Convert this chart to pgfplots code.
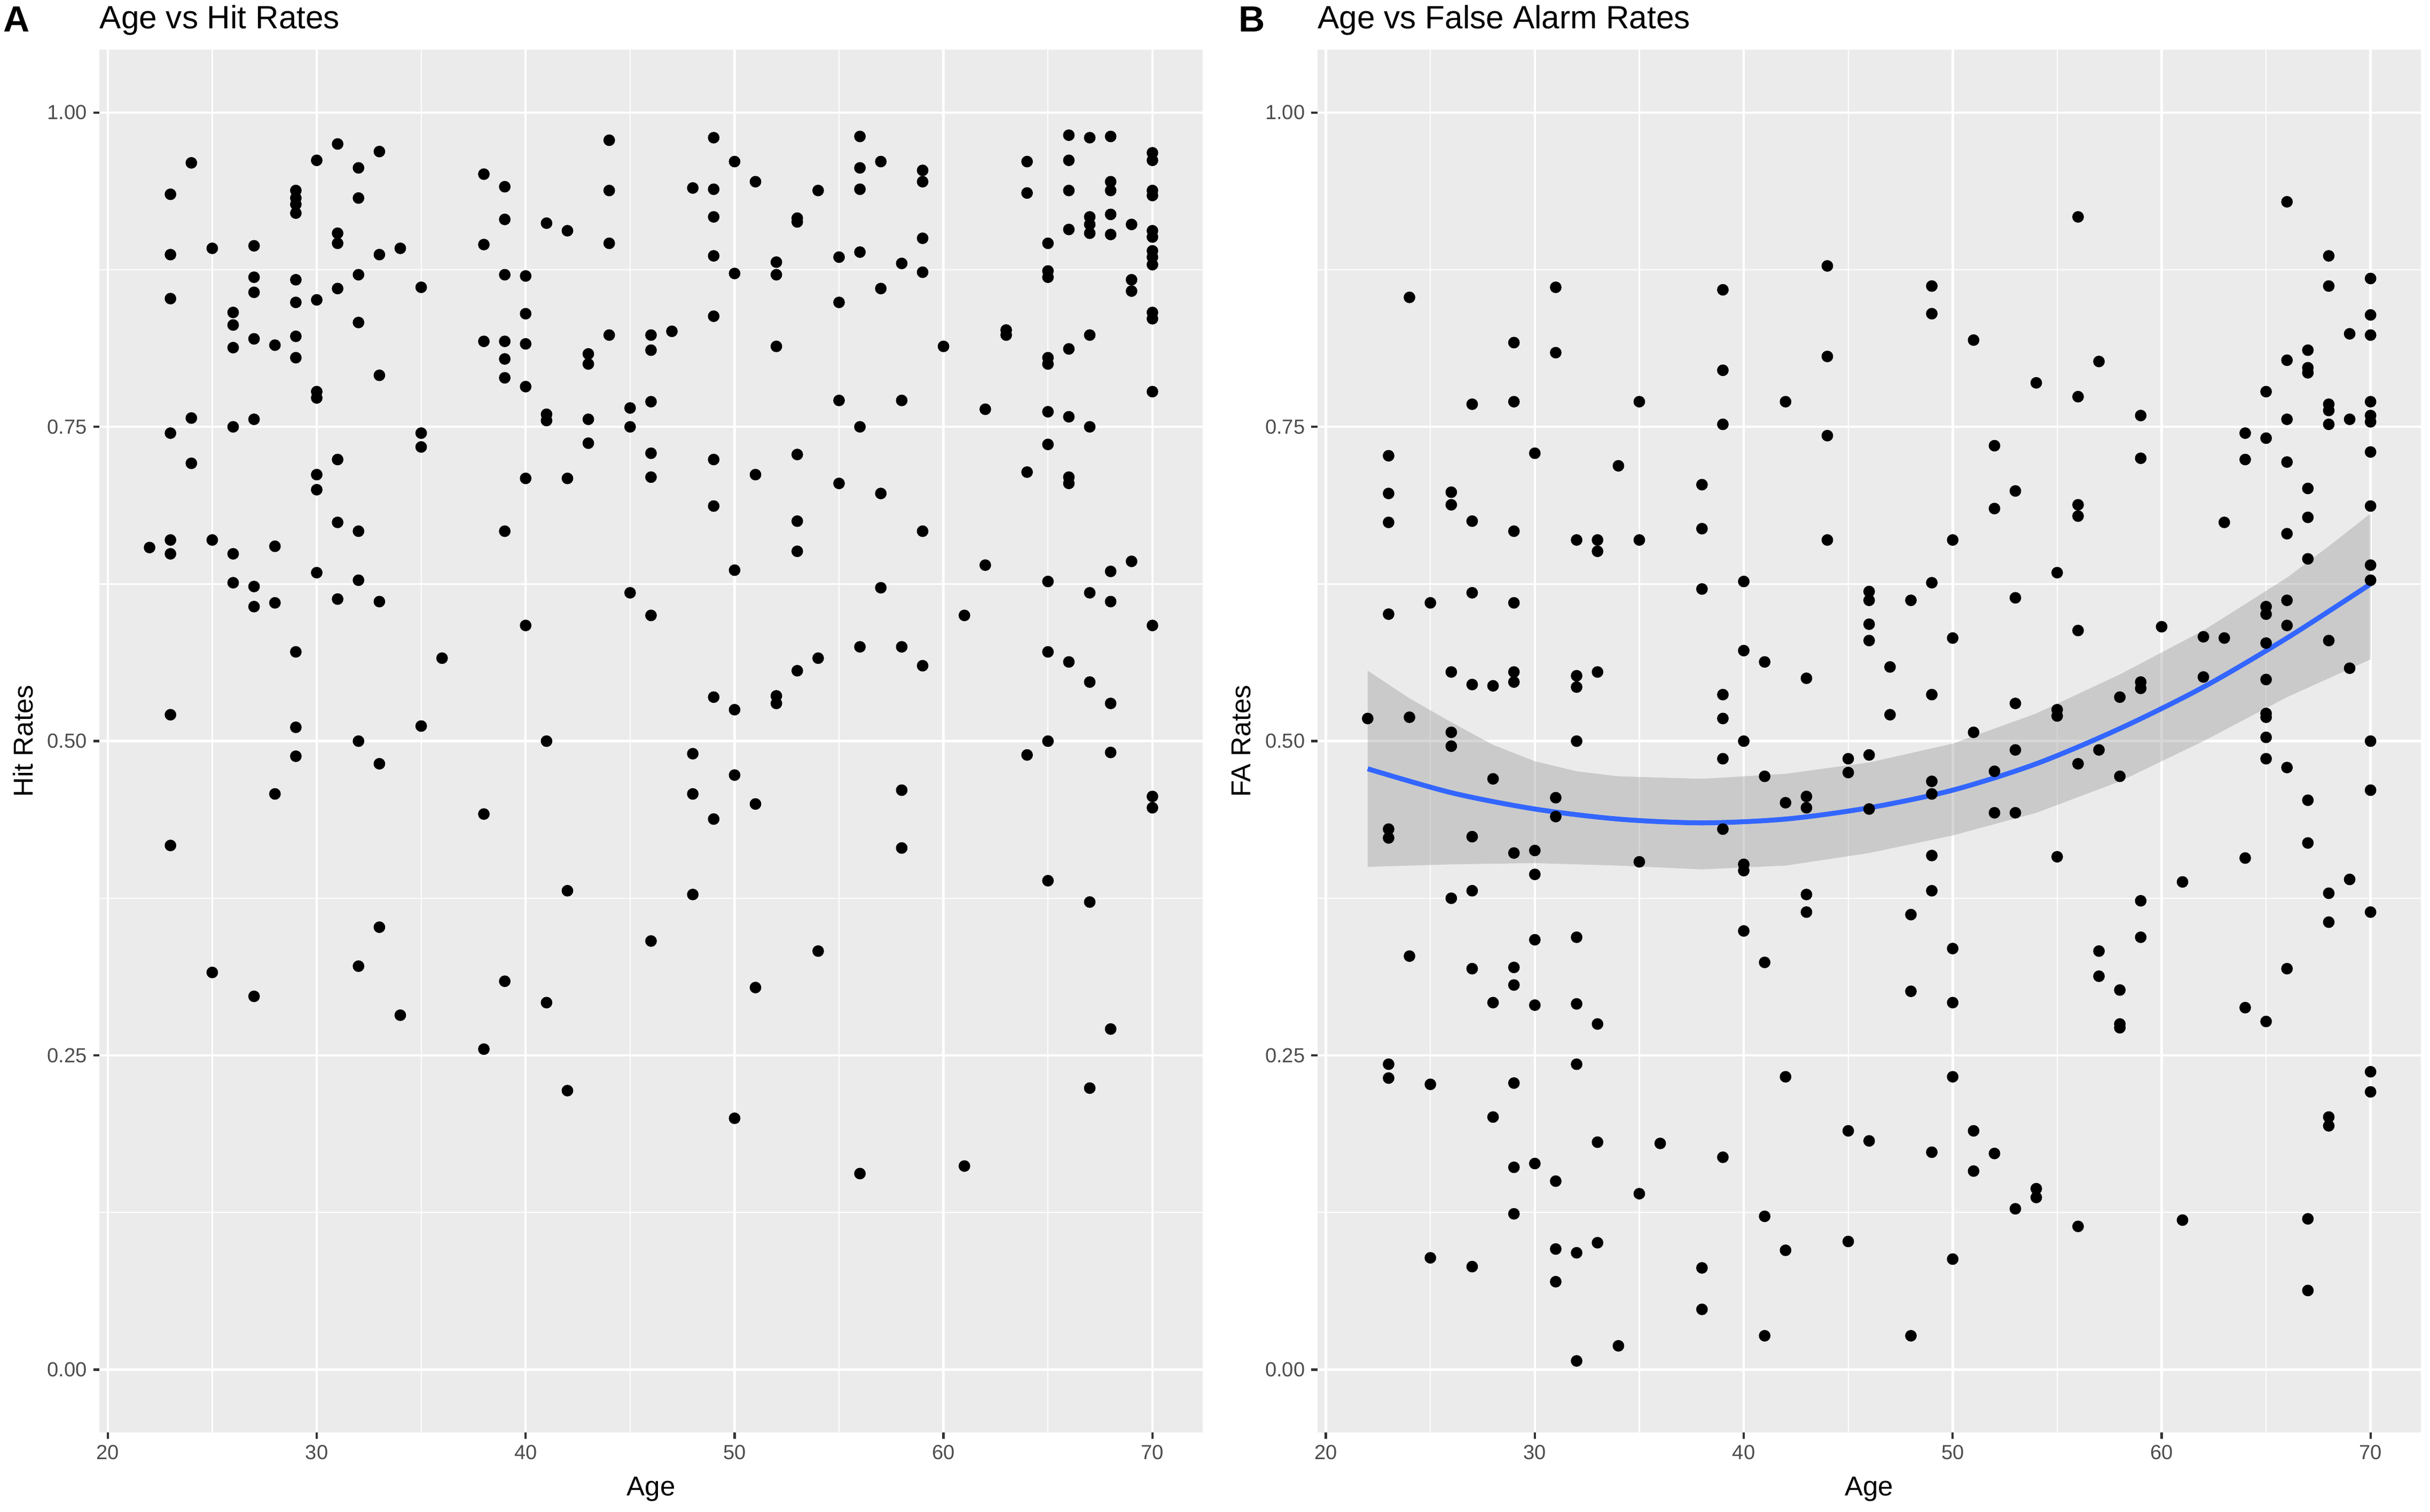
\documentclass[border=0pt]{standalone}
\usepackage{fontspec}
\setmainfont{Liberation Sans}
\usepackage{pgfplots}
\pgfplotsset{compat=1.18}
\definecolor{bggray}{HTML}{EBEBEB}
\definecolor{ticklab}{HTML}{4D4D4D}
\definecolor{tickcol}{HTML}{333333}
\definecolor{smoothblue}{HTML}{3366FF}
\definecolor{ribbongray}{HTML}{999999}

\pgfplotsset{ggp/.style={
  scale only axis, width=213mm, height=267mm,
  xmin=19.6, xmax=72.4, ymin=-0.05, ymax=1.05,
  axis background/.style={fill=bggray},
  axis line style={draw=none},
  xtick={20,30,40,50,60,70},
  ytick={0,0.25,0.5,0.75,1},
  minor xtick={25,35,45,55,65},
  minor ytick={0.125,0.375,0.625,0.875},
  grid=both,
  major grid style={white, line width=0.46mm},
  minor grid style={white, line width=0.23mm},
  tick align=outside,
  major tick length=1.2mm,
  minor tick length=0pt,
  xtick pos=left, ytick pos=left,
  tick style={tickcol, line width=0.45mm},
  tick label style={font=\fontsize{11.2}{13}\selectfont, text=ticklab},
  /pgf/number format/assume math mode=true,
  yticklabel style={/pgf/number format/.cd, fixed, fixed zerofill, precision=2},
  every axis x label/.style={at={(axis description cs:0.5,-0.041)}, anchor=center, font=\fontsize{15}{18}\selectfont},
  every axis y label/.style={at={(axis description cs:-0.069,0.5)}, rotate=90, anchor=center, font=\fontsize{15}{18}\selectfont},
  every axis title/.style={at={(axis description cs:0,1)}, anchor=base west, inner sep=0pt, yshift=4.08mm, font=\fontsize{17.7}{20}\selectfont},
  dots/.style={only marks, mark=*, mark size=1.05mm, mark options={draw=none, fill=black}},
}}

\begin{document}
\begin{tikzpicture}
\useasboundingbox (0,0) rectangle (469.2mm,291.9mm);

\begin{axis}[ggp, at={(19.2mm,15.3mm)}, anchor=south west,
  title={Age vs Hit Rates}, xlabel={Age}, ylabel={Hit Rates}]
\addplot[dots] coordinates {
(22,0.654)
(23,0.935) (23,0.887) (23,0.852) (23,0.745) (23,0.660) (23,0.649) (23,0.521) (23,0.417)
(24,0.960) (24,0.757) (24,0.721)
(25,0.892) (25,0.660) (25,0.316)
(26,0.841) (26,0.831) (26,0.813) (26,0.750) (26,0.649) (26,0.626)
(27,0.894) (27,0.869) (27,0.857) (27,0.820) (27,0.756) (27,0.623) (27,0.607) (27,0.297)
(28,0.815) (28,0.655) (28,0.610) (28,0.458)
(29,0.938) (29,0.932) (29,0.927) (29,0.920) (29,0.867) (29,0.849) (29,0.822) (29,0.805) (29,0.571) (29,0.511) (29,0.488)
(30,0.962) (30,0.851) (30,0.778) (30,0.773) (30,0.712) (30,0.700) (30,0.634)
(31,0.975) (31,0.904) (31,0.896) (31,0.860) (31,0.724) (31,0.674) (31,0.613)
(32,0.956) (32,0.932) (32,0.871) (32,0.833) (32,0.667) (32,0.628) (32,0.500) (32,0.321)
(33,0.969) (33,0.887) (33,0.791) (33,0.611) (33,0.482) (33,0.352)
(34,0.892) (34,0.282)
(35,0.861) (35,0.745) (35,0.734) (35,0.512)
(36,0.566)
(38,0.951) (38,0.895) (38,0.818) (38,0.442) (38,0.255)
(39,0.941) (39,0.915) (39,0.871) (39,0.818) (39,0.804) (39,0.789) (39,0.667) (39,0.309)
(40,0.870) (40,0.840) (40,0.816) (40,0.782) (40,0.709) (40,0.592)
(41,0.912) (41,0.760) (41,0.755) (41,0.500) (41,0.292)
(42,0.906) (42,0.709) (42,0.381) (42,0.222)
(43,0.808) (43,0.800) (43,0.756) (43,0.737)
(44,0.978) (44,0.938) (44,0.896) (44,0.823)
(45,0.765) (45,0.750) (45,0.618)
(46,0.823) (46,0.811) (46,0.770) (46,0.729) (46,0.710) (46,0.600) (46,0.341)
(47,0.826)
(48,0.940) (48,0.490) (48,0.458) (48,0.378)
(49,0.980) (49,0.939) (49,0.917) (49,0.886) (49,0.838) (49,0.724) (49,0.687) (49,0.535) (49,0.438)
(50,0.961) (50,0.872) (50,0.636) (50,0.525) (50,0.473) (50,0.200)
(51,0.945) (51,0.712) (51,0.450) (51,0.304)
(52,0.881) (52,0.871) (52,0.814) (52,0.536) (52,0.530)
(53,0.916) (53,0.913) (53,0.728) (53,0.675) (53,0.651) (53,0.556)
(54,0.938) (54,0.566) (54,0.333)
(55,0.885) (55,0.849) (55,0.771) (55,0.705)
(56,0.981) (56,0.956) (56,0.939) (56,0.889) (56,0.750) (56,0.575) (56,0.156)
(57,0.961) (57,0.860) (57,0.697) (57,0.622)
(58,0.880) (58,0.771) (58,0.575) (58,0.461) (58,0.415)
(59,0.954) (59,0.945) (59,0.900) (59,0.873) (59,0.667) (59,0.560)
(60,0.814)
(61,0.600) (61,0.162)
(62,0.764) (62,0.640)
(63,0.827) (63,0.823)
(64,0.961) (64,0.936) (64,0.714) (64,0.489)
(65,0.896) (65,0.874) (65,0.869) (65,0.805) (65,0.800) (65,0.762) (65,0.736) (65,0.627) (65,0.571) (65,0.500) (65,0.389)
(66,0.982) (66,0.962) (66,0.938) (66,0.907) (66,0.812) (66,0.758) (66,0.710) (66,0.705) (66,0.563)
(67,0.980) (67,0.917) (67,0.911) (67,0.904) (67,0.823) (67,0.750) (67,0.618) (67,0.547) (67,0.372) (67,0.224)
(68,0.981) (68,0.945) (68,0.938) (68,0.919) (68,0.903) (68,0.635) (68,0.611) (68,0.530) (68,0.491) (68,0.271)
(69,0.911) (69,0.867) (69,0.858) (69,0.643)
(70,0.968) (70,0.962) (70,0.938) (70,0.934) (70,0.906) (70,0.901) (70,0.890) (70,0.885) (70,0.879) (70,0.841) (70,0.836) (70,0.778) (70,0.592) (70,0.456) (70,0.447)
};
\end{axis}

\begin{axis}[ggp, at={(254.4mm,15.3mm)}, anchor=south west,
  title={Age vs False Alarm Rates}, xlabel={Age}, ylabel={FA Rates}]
\addplot[dots] coordinates {
(22,0.518)
(23,0.727) (23,0.697) (23,0.674) (23,0.601) (23,0.430) (23,0.423) (23,0.243) (23,0.232)
(24,0.853) (24,0.519) (24,0.329)
(25,0.610) (25,0.227) (25,0.089)
(26,0.698) (26,0.688) (26,0.555) (26,0.507) (26,0.496) (26,0.375)
(27,0.768) (27,0.675) (27,0.618) (27,0.545) (27,0.424) (27,0.381) (27,0.319) (27,0.082)
(28,0.544) (28,0.470) (28,0.292) (28,0.201)
(29,0.817) (29,0.770) (29,0.667) (29,0.610) (29,0.555) (29,0.547) (29,0.411) (29,0.320) (29,0.306) (29,0.228) (29,0.161) (29,0.124)
(30,0.729) (30,0.413) (30,0.394) (30,0.342) (30,0.290) (30,0.164)
(31,0.861) (31,0.809) (31,0.455) (31,0.440) (31,0.150) (31,0.096) (31,0.070)
(32,0.660) (32,0.552) (32,0.543) (32,0.500) (32,0.344) (32,0.291) (32,0.243) (32,0.093) (32,0.007)
(33,0.660) (33,0.651) (33,0.555) (33,0.275) (33,0.181) (33,0.101)
(34,0.719) (34,0.019)
(35,0.770) (35,0.660) (35,0.404) (35,0.140)
(36,0.180)
(38,0.704) (38,0.669) (38,0.621) (38,0.081) (38,0.048)
(39,0.859) (39,0.795) (39,0.752) (39,0.537) (39,0.518) (39,0.486) (39,0.430) (39,0.169)
(40,0.627) (40,0.572) (40,0.500) (40,0.402) (40,0.397) (40,0.349)
(41,0.563) (41,0.472) (41,0.324) (41,0.122) (41,0.027)
(42,0.770) (42,0.451) (42,0.233) (42,0.095)
(43,0.550) (43,0.456) (43,0.447) (43,0.378) (43,0.364)
(44,0.878) (44,0.806) (44,0.743) (44,0.660)
(45,0.486) (45,0.475) (45,0.190) (45,0.102)
(46,0.619) (46,0.612) (46,0.593) (46,0.580) (46,0.489) (46,0.446) (46,0.182)
(47,0.559) (47,0.521)
(48,0.612) (48,0.362) (48,0.301) (48,0.027)
(49,0.862) (49,0.840) (49,0.626) (49,0.537) (49,0.468) (49,0.458) (49,0.409) (49,0.381) (49,0.173)
(50,0.660) (50,0.582) (50,0.335) (50,0.292) (50,0.233) (50,0.088)
(51,0.819) (51,0.507) (51,0.190) (51,0.158)
(52,0.735) (52,0.685) (52,0.476) (52,0.443) (52,0.172)
(53,0.699) (53,0.614) (53,0.530) (53,0.493) (53,0.443) (53,0.128)
(54,0.785) (54,0.144) (54,0.137)
(55,0.634) (55,0.525) (55,0.520) (55,0.408)
(56,0.917) (56,0.774) (56,0.688) (56,0.679) (56,0.588) (56,0.482) (56,0.114)
(57,0.802) (57,0.493) (57,0.333) (57,0.313)
(58,0.535) (58,0.472) (58,0.302) (58,0.275) (58,0.272)
(59,0.759) (59,0.725) (59,0.547) (59,0.542) (59,0.373) (59,0.344)
(60,0.591)
(61,0.388) (61,0.119)
(62,0.583) (62,0.551)
(63,0.674) (63,0.582)
(64,0.745) (64,0.724) (64,0.407) (64,0.288)
(65,0.778) (65,0.741) (65,0.607) (65,0.601) (65,0.578) (65,0.549) (65,0.522) (65,0.519) (65,0.503) (65,0.486) (65,0.277)
(66,0.929) (66,0.803) (66,0.756) (66,0.722) (66,0.665) (66,0.612) (66,0.592) (66,0.479) (66,0.319)
(67,0.811) (67,0.797) (67,0.793) (67,0.701) (67,0.678) (67,0.645) (67,0.453) (67,0.419) (67,0.120) (67,0.063)
(68,0.886) (68,0.862) (68,0.768) (68,0.763) (68,0.752) (68,0.580) (68,0.379) (68,0.356) (68,0.201) (68,0.194)
(69,0.824) (69,0.756) (69,0.558) (69,0.390)
(70,0.868) (70,0.839) (70,0.823) (70,0.770) (70,0.759) (70,0.754) (70,0.730) (70,0.687) (70,0.640) (70,0.628) (70,0.500) (70,0.461) (70,0.364) (70,0.237) (70,0.221)
};
\addplot[fill=ribbongray, fill opacity=0.4, draw=none] coordinates {
(22,0.556) (24,0.534) (26,0.515) (28,0.497) (30,0.484) (32,0.476) (34,0.472) (38,0.470) (42,0.474) (46,0.483) (50,0.498) (54,0.522) (58,0.553) (62,0.588) (66,0.630) (68,0.655) (70,0.681)
(70,0.565) (68,0.550) (66,0.535) (62,0.500) (58,0.468) (54,0.443) (50,0.425) (46,0.411) (42,0.401) (38,0.398) (34,0.401) (30,0.403) (26,0.402) (22,0.400)} -- cycle;
\addplot[smoothblue, line width=0.95mm, smooth] coordinates {
(22,0.478) (26,0.459) (30,0.446) (34,0.438) (38,0.435) (42,0.438) (46,0.447) (50,0.461) (54,0.482) (58,0.510) (62,0.543) (66,0.582) (70,0.625)};
\end{axis}

\node[anchor=base west, inner sep=0pt, font=\fontsize{20}{24}\selectfont\bfseries] at (0.6mm,285.75mm) {A};
\node[anchor=base west, inner sep=0pt, font=\fontsize{20}{24}\selectfont\bfseries] at (239.1mm,285.75mm) {B};
\end{tikzpicture}
\end{document}
